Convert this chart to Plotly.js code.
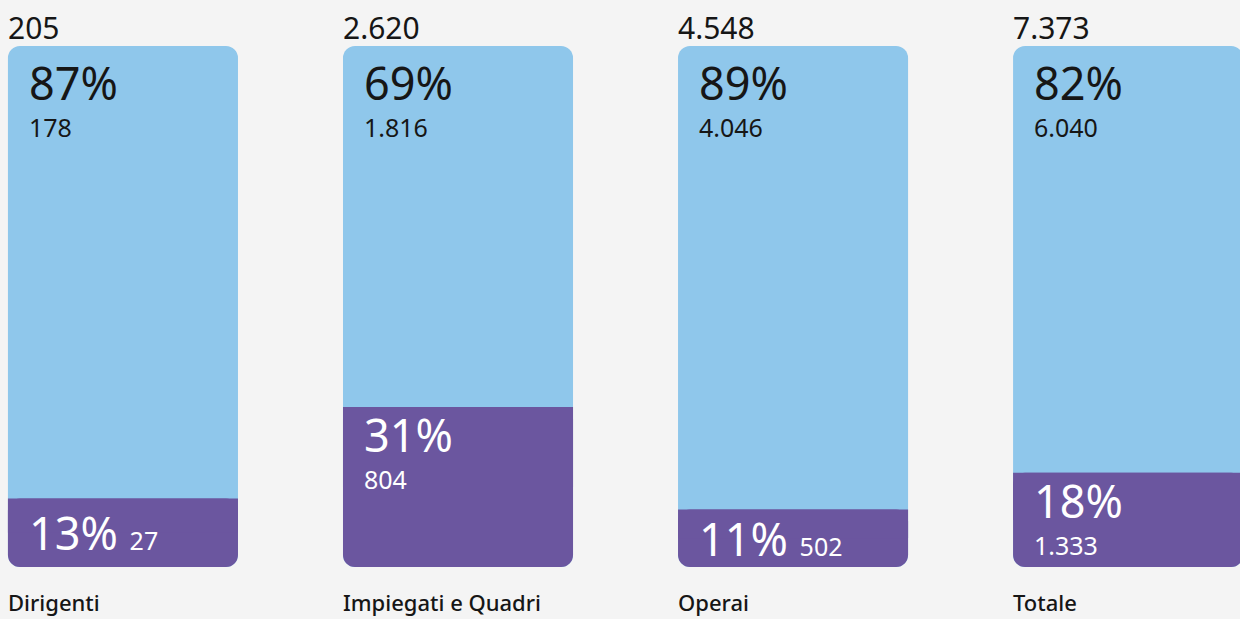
<!DOCTYPE html>
<html>
<head>
<meta charset="utf-8">
<script src="https://cdn.plot.ly/plotly-3.0.1.min.js"></script>
<style>
  html, body { margin: 0; padding: 0; background: #f4f4f4; }
  #chart { width: 1240px; height: 619px; }
</style>
</head>
<body>
<div id="chart"></div>
<script>
const categories = ['Dirigenti', 'Impiegati e Quadri', 'Operai', 'Totale'];
const purpleValues = [27, 804, 502, 1333];
const blueValues = [178, 1816, 4046, 6040];

const BLUE = '#8fc7eb';
const PURPLE = '#6b569f';
const TEXT = '#161616';
const FONT = '"Noto Sans", "Open Sans", sans-serif';
const BAR_W = 0.6866;
const RADIUS = 12;
const BIG = 45;
const SMALL = 25;

function fmt(n) {
  return String(n).replace(/\B(?=(\d{3})+(?!\d))/g, '.');
}
function big(t) { return '<span style="font-size:' + BIG + 'px">' + t + '</span>'; }
function small(t) { return '<span style="font-size:' + SMALL + 'px">' + t + '</span>'; }

const idx = categories.map((_, i) => i);
const zeros = idx.map(() => 0);
const totals = purpleValues.map((v, i) => v + blueValues[i]);
const purpleShare = purpleValues.map((v, i) => v / totals[i] * 100);
const blueShare = blueValues.map((v, i) => v / totals[i] * 100);

const traces = [
  {
    type: 'bar', x: idx, base: zeros, y: idx.map(() => 100),
    width: BAR_W, marker: { color: BLUE, cornerradius: RADIUS, line: { width: 0 } },
    hoverinfo: 'skip', showlegend: false
  },
  {
    type: 'bar', x: idx, base: zeros, y: purpleShare,
    width: BAR_W, marker: { color: PURPLE, cornerradius: RADIUS, line: { width: 0 } },
    hoverinfo: 'skip', showlegend: false
  },
  {
    type: 'bar', x: idx, base: purpleShare.map(s => s / 2), y: purpleShare.map(s => s / 2),
    width: BAR_W, marker: { color: PURPLE, cornerradius: 0, line: { width: 0 } },
    hoverinfo: 'skip', showlegend: false
  }
];

const annotations = [];
idx.forEach(i => {
  const left = i - BAR_W / 2;
  annotations.push({
    x: left, y: 100, xref: 'x', yref: 'y', xanchor: 'left', yanchor: 'bottom',
    xshift: -2, yshift: -4, showarrow: false, text: fmt(totals[i]),
    font: { family: FONT, size: 30, color: TEXT }
  });
  annotations.push({
    x: left, y: 0, xref: 'x', yref: 'y', xanchor: 'left', yanchor: 'top',
    xshift: -2, yshift: -18, showarrow: false, text: categories[i],
    font: { family: FONT, size: 22, color: TEXT, weight: 500 }
  });
  annotations.push({
    x: left, y: 100, xref: 'x', yref: 'y', xanchor: 'left', yanchor: 'top', align: 'left',
    xshift: 19, yshift: -4, showarrow: false,
    text: big(Math.round(blueShare[i]) + '%') + '<br>' + small(fmt(blueValues[i])),
    font: { family: FONT, size: 28.5, color: TEXT }
  });
  if (purpleShare[i] < 15) {
    annotations.push({
      x: left, y: purpleShare[i] / 2, xref: 'x', yref: 'y', xanchor: 'left', yanchor: 'middle',
      xshift: 19, yshift: 0, showarrow: false,
      text: big(Math.round(purpleShare[i]) + '% ') + small(fmt(purpleValues[i])),
      font: { family: FONT, size: BIG, color: '#ffffff' }
    });
  } else {
    annotations.push({
      x: left, y: purpleShare[i], xref: 'x', yref: 'y', xanchor: 'left', yanchor: 'top', align: 'left',
      xshift: 19, yshift: 5, showarrow: false,
      text: big(Math.round(purpleShare[i]) + '%') + '<br>' + small(fmt(purpleValues[i])),
      font: { family: FONT, size: 28.5, color: '#ffffff' }
    });
  }
});

const layout = {
  width: 1240, height: 619,
  margin: { l: 0, r: 0, t: 46, b: 52, pad: 0 },
  paper_bgcolor: '#f4f4f4', plot_bgcolor: '#f4f4f4',
  barmode: 'overlay',
  showlegend: false,
  hovermode: false,
  xaxis: { type: 'linear', range: [-0.367, 3.334], visible: false, fixedrange: true },
  yaxis: { range: [0, 100], visible: false, fixedrange: true },
  annotations: annotations
};

Plotly.newPlot('chart', traces, layout, { displayModeBar: false, staticPlot: true });
</script>
</body>
</html>
